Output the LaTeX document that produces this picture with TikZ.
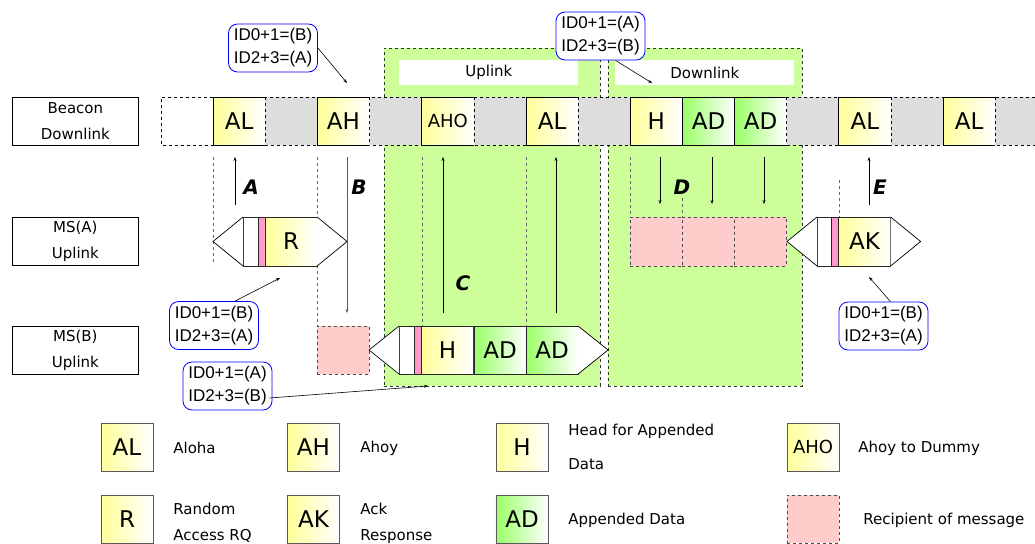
\documentclass[tikz,border=0pt]{standalone}
\usepackage{fontspec}
\setmainfont{DejaVu Sans}
\newfontfamily\calfont{Liberation Sans}
\usetikzlibrary{arrows.meta,calc}
\definecolor{lyel}{HTML}{FFFF99}
\definecolor{lgrn}{HTML}{99FF66}
\definecolor{rgnfill}{HTML}{CCFF99}
\definecolor{recfill}{HTML}{FFCCCC}
\definecolor{pinkbar}{HTML}{FF99CC}
\definecolor{slot}{HTML}{DDDDDD}
\newcommand\cellframe[1]{%
  \draw[solid] (#1.north east) -- (#1.north west) -- (#1.south west) -- (#1.south east);
  \draw[dashed] (#1.north east) -- (#1.south east);}
\begin{document}
\begin{tikzpicture}[x=1pt,y=-1pt,line width=0.7pt,
  >={Stealth[length=4pt,width=3pt]},
  cellbase/.style={minimum width=52.2pt,minimum height=48pt,inner sep=0pt,outer sep=0pt,font=\fontsize{23}{25}\selectfont},
  ycell/.style={cellbase,left color=lyel,right color=white},
  gcell/.style={cellbase,left color=lgrn,right color=white},
  scell/.style={cellbase,fill=slot},
  wcell/.style={cellbase,fill=white},
  strip/.style={draw=black!85,inner sep=0pt,outer sep=0pt,minimum height=49pt},
  recbox/.style={cellbase,fill=recfill,draw=black!70,dashed},
  region/.style={fill=rgnfill,draw=black!80,dashed,anchor=north west,inner sep=0pt},
  rlabel/.style={fill=white,anchor=north west,minimum width=179pt,minimum height=25pt,inner sep=0pt,font=\fontsize{15}{18}\selectfont},
  lbl/.style={draw,anchor=north west,minimum width=126pt,minimum height=48pt,inner sep=0pt,align=center,font=\fontsize{15}{26}\selectfont},
  guide/.style={dashed,draw=black!60,line width=0.6pt},
  arr/.style={->,line width=0.6pt},
  letter/.style={font=\fontsize{20}{22}\selectfont\bfseries\itshape},
  callout/.style={draw=blue,rounded corners=9pt,fill=white,line width=0.8pt,minimum width=89pt,minimum height=48pt,inner sep=1pt,align=left,font=\calfont\fontsize{17}{23}\selectfont},
  legtext/.style={anchor=west,align=left,inner sep=0pt,font=\fontsize{15}{26}\selectfont}
]
\useasboundingbox (0,0) rectangle (1035,543);
\clip (0,0) rectangle (1035,543);

% green regions
\node[region,minimum width=216pt,minimum height=338pt] (upr) at (384,48) {};
\node[region,minimum width=194pt,minimum height=338pt] (dnr) at (608,48) {};
\node[rlabel] (upl) at (399,60) {Uplink};
\node[rlabel] (dnl) at (615,60) {Downlink};

% guide lines
\draw[guide] (213,157) -- (213,265);
\draw[guide] (317,157) -- (317,326);
\draw[guide] (422,157) -- (422,326);
\draw[guide] (526,157) -- (526,326);
\draw[guide] (630,157) -- (630,217);
\draw[guide] (682,198) -- (682,217);
\draw[guide] (839,180) -- (839,217);

% beacon row
\node[wcell] (b0) at (187.1,121) {};
\node[ycell] (b1) at (239.2,121) {AL};
\node[scell] (b2) at (291.4,121) {};
\node[ycell] (b3) at (343.5,121) {AH};
\node[scell] (b4) at (395.6,121) {};
\node[ycell,font=\fontsize{18}{20}\selectfont] (b5) at (447.8,121) {AHO};
\node[scell] (b6) at (499.9,121) {};
\node[ycell] (b7) at (552.1,121) {AL};
\node[scell] (b8) at (604.2,121) {};
\node[ycell] (b9) at (656.3,121) {H};
\node[gcell] (b10) at (708.5,121) {AD};
\node[gcell] (b11) at (760.6,121) {AD};
\node[scell] (b12) at (812.8,121) {};
\node[ycell] (b13) at (864.9,121) {AL};
\node[scell] (b14) at (917.0,121) {};
\node[ycell] (b15) at (969.2,121) {AL};
\node[scell] (b16) at (1021.3,121) {};
\draw[dashed] (b16.north east) -- (b0.north west) -- (b0.south west) -- (b16.south east);
\cellframe{b1}\cellframe{b3}\cellframe{b5}\cellframe{b7}
\cellframe{b9}\cellframe{b10}\cellframe{b11}\cellframe{b13}\cellframe{b15}

% row labels
\node[lbl] (lbeacon) at (12,97) {Beacon\\Downlink};
\node[lbl] (lmsa) at (12,217) {MS(A)\\Uplink};
\node[lbl] (lmsb) at (12,326) {MS(B)\\Uplink};

% packet of MS(A)
\node[strip,fill=white,minimum width=15pt] (pa0) at (250.5,241.5) {};
\node[strip,fill=pinkbar,minimum width=7pt] (pa1) at (261.5,241.5) {};
\node[ycell,draw=black!85,minimum height=49pt] (pa2) at (291,241.5) {R};
\draw[fill=white] (pa0.north west) -- ($(pa0.west)+(-30,0)$) -- (pa0.south west);
\draw[fill=white] (pa2.north east) -- ($(pa2.east)+(30,0)$) -- (pa2.south east);

% recipient of MS(B)
\node[recbox] (rb) at (343,350) {};
% packet of MS(B)
\node[strip,fill=white,minimum width=15pt,minimum height=48pt] (pb0) at (406.5,350) {};
\node[strip,fill=pinkbar,minimum width=7pt,minimum height=48pt] (pb1) at (417.5,350) {};
\node[ycell,draw=black!85] (pb2) at (447.5,350) {H};
\node[gcell,draw=black!85] (pb3) at (500,350) {AD};
\node[gcell,draw=black!85] (pb4) at (552,350) {AD};
\draw[fill=white] (pb0.north west) -- ($(pb0.west)+(-30,0)$) -- (pb0.south west);
\draw[fill=white] (pb4.north east) -- ($(pb4.east)+(30,0)$) -- (pb4.south east);

% recipients in downlink
\node[recbox,minimum height=49pt] (ra1) at (656,241.5) {};
\node[recbox,minimum height=49pt] (ra2) at (708,241.5) {};
\node[recbox,minimum height=49pt] (ra3) at (760.5,241.5) {};
% AK packet
\node[strip,fill=white,minimum width=14pt] (pk0) at (824,241.5) {};
\node[strip,fill=pinkbar,minimum width=7pt] (pk1) at (834.5,241.5) {};
\node[ycell,draw=black!85,minimum height=49pt] (pk2) at (864.5,241.5) {AK};
\draw[fill=white] (pk0.north west) -- ($(pk0.west)+(-30,0)$) -- (pk0.south west);
\draw[fill=white] (pk2.north east) -- ($(pk2.east)+(30,0)$) -- (pk2.south east);

% arrows between rows
\coordinate (a1) at (235,205); \coordinate (a2) at (235,157);
\coordinate (bb1) at (347,157); \coordinate (bb2) at (347,313);
\coordinate (c1) at (443,313); \coordinate (c2) at (443,157);
\coordinate (u1) at (556,313); \coordinate (u2) at (556,157);
\coordinate (d1) at (660,157); \coordinate (d2) at (660,204);
\coordinate (d3) at (712,157); \coordinate (d4) at (712,204);
\coordinate (d5) at (764,157); \coordinate (d6) at (764,204);
\coordinate (e1) at (869,205); \coordinate (e2) at (869,157);
\draw[arr] (a1) -- (a2);
\draw[arr,draw=black!65] (bb1) -- (bb2);
\draw[arr] (c1) -- (c2);
\draw[arr] (u1) -- (u2);
\draw[arr] (d1) -- (d2);
\draw[arr] (d3) -- (d4);
\draw[arr] (d5) -- (d6);
\draw[arr] (e1) -- (e2);
\node[letter] (lA) at (251,187) {A};
\node[letter] (lB) at (359,187) {B};
\node[letter] (lC) at (463,283) {C};
\node[letter,fill=rgnfill,inner sep=1pt] (lD) at (682,187) {D};
\node[letter] (lE) at (880,187) {E};

% callouts
\node[callout] (k1) at (273,48) {ID0+1=(B)\\ID2+3=(A)};
\node[callout] (k2) at (600.5,36) {ID0+1=(A)\\ID2+3=(B)};
\node[callout] (k3) at (214,325.5) {ID0+1=(B)\\ID2+3=(A)};
\node[callout] (k4) at (227.5,386) {ID0+1=(A)\\ID2+3=(B)};
\node[callout] (k5) at (883.5,326) {ID0+1=(B)\\ID2+3=(A)};
\coordinate (t1) at (347,83);
\coordinate (t2) at (652,83);
\coordinate (t3) at (280,278);
\coordinate (t4) at (428,386);
\coordinate (t5) at (869,277);
\draw[arr] (k1.east) -- (t1);
\draw[arr] ($(k2.south)+(15,0)$) -- (t2);
\draw[arr] ($(k3.north)+(21,0)$) -- (t3);
\draw[arr] ($(k4.east)+(-3,12)$) -- (t4);
\draw[arr] ($(k5.north)+(7,0)$) -- (t5);

% legend
\node[ycell,draw=black!65] (gAL) at (127,447) {AL};
\node[ycell,draw=black!65] (gAH) at (313.5,447) {AH};
\node[ycell,draw=black!65] (gH) at (522,447) {H};
\node[ycell,draw=black!65,font=\fontsize{18}{20}\selectfont] (gAHO) at (813,447) {AHO};
\node[ycell,draw=black!65] (gR) at (127,519) {R};
\node[ycell,draw=black!65] (gAK) at (313.5,519) {AK};
\node[gcell,draw=black!65] (gAD) at (522,519) {AD};
\node[recbox] (gRec) at (813,519) {};
\node[legtext] (tAL) at (173,448) {Aloha};
\node[legtext] (tAH) at (360,448) {Ahoy};
\node[legtext,font=\fontsize{15}{34}\selectfont] (tH) at (568,447) {Head for Appended\\Data};
\node[legtext] (tAHO) at (858,448) {Ahoy to Dummy};
\node[legtext] (tR) at (173,523) {Random\\Access RQ};
\node[legtext] (tAK) at (360,523) {Ack\\Response};
\node[legtext] (tAD) at (568,520) {Appended Data};
\node[legtext] (tRec) at (863,520) {Recipient of message};
\end{tikzpicture}
\end{document}
